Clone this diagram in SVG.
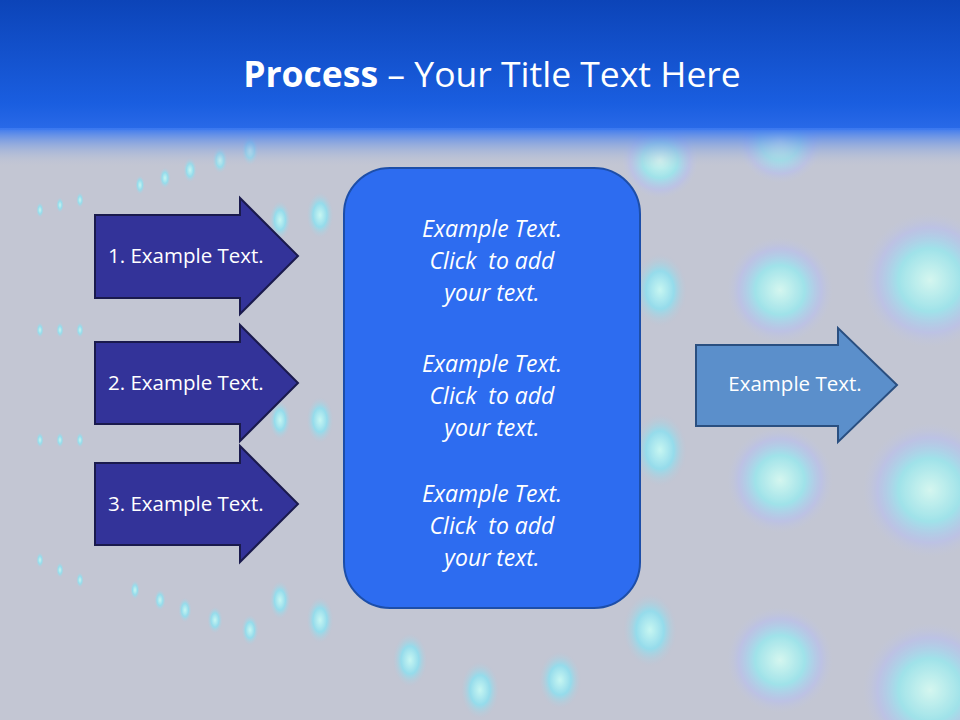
<svg xmlns="http://www.w3.org/2000/svg" width="960" height="720" viewBox="0 0 960 720">
<defs>
<linearGradient id="top" x1="0" y1="0" x2="0" y2="1">
<stop offset="0" stop-color="#0c44b8"/><stop offset="0.8" stop-color="#1a5ee0"/><stop offset="1" stop-color="#2a6ae8"/>
</linearGradient>
<linearGradient id="fade" x1="0" y1="0" x2="0" y2="1">
<stop offset="0" stop-color="#3a78f0"/><stop offset="1" stop-color="#c4c8d4" stop-opacity="0"/>
</linearGradient>
<radialGradient id="dot">
<stop offset="0" stop-color="#c8fff8"/><stop offset="0.5" stop-color="#8ee0f0"/><stop offset="1" stop-color="#c4c8d8" stop-opacity="0"/>
</radialGradient>
<radialGradient id="big">
<stop offset="0" stop-color="#d8fff4"/><stop offset="0.45" stop-color="#9ae8ee"/><stop offset="0.75" stop-color="#b8c0f0" stop-opacity="0.7"/><stop offset="1" stop-color="#c4c8d8" stop-opacity="0"/>
</radialGradient>
<style>
.ar{fill:#333399;stroke:#1a1a4d;stroke-width:2}
.t{font-family:"Open Sans","Liberation Sans",sans-serif;fill:#fff;font-size:20.5px}
.c{font-family:"Open Sans","Liberation Sans",sans-serif;fill:#fff;font-size:23px;font-style:italic;text-anchor:middle}
</style>
</defs>
<rect width="960" height="720" fill="#c3c6d3"/>
<g id="bg" opacity="0.85">
<g fill="url(#dot)">
<ellipse cx="320" cy="215" rx="14" ry="24"/><ellipse cx="320" cy="420" rx="14" ry="24"/><ellipse cx="320" cy="620" rx="14" ry="24"/>
<ellipse cx="280" cy="220" rx="11" ry="20"/><ellipse cx="280" cy="420" rx="11" ry="20"/><ellipse cx="280" cy="600" rx="11" ry="20"/>
<ellipse cx="250" cy="150" rx="9" ry="16"/><ellipse cx="220" cy="160" rx="8" ry="14"/><ellipse cx="190" cy="170" rx="7" ry="13"/><ellipse cx="165" cy="178" rx="6" ry="11"/><ellipse cx="140" cy="185" rx="5" ry="10"/>
<ellipse cx="250" cy="630" rx="9" ry="16"/><ellipse cx="215" cy="620" rx="8" ry="14"/><ellipse cx="185" cy="610" rx="7" ry="13"/><ellipse cx="160" cy="600" rx="6" ry="11"/><ellipse cx="135" cy="590" rx="5" ry="10"/>
<ellipse cx="410" cy="660" rx="18" ry="28"/><ellipse cx="480" cy="690" rx="20" ry="30"/><ellipse cx="560" cy="680" rx="22" ry="30"/>
<ellipse cx="660" cy="450" rx="28" ry="38"/><ellipse cx="660" cy="290" rx="28" ry="38"/><ellipse cx="650" cy="630" rx="28" ry="38"/>
</g>
<g fill="url(#big)">
<circle cx="780" cy="290" r="55"/><circle cx="780" cy="480" r="55"/><circle cx="780" cy="660" r="55"/>
<circle cx="930" cy="280" r="70"/><circle cx="930" cy="490" r="70"/><circle cx="930" cy="690" r="70"/>
<circle cx="660" cy="160" r="40"/><circle cx="780" cy="140" r="45"/>
</g>
<g fill="url(#dot)">
<ellipse cx="40" cy="330" rx="4" ry="8"/><ellipse cx="60" cy="330" rx="4" ry="8"/><ellipse cx="80" cy="330" rx="4" ry="8"/>
<ellipse cx="40" cy="440" rx="4" ry="8"/><ellipse cx="60" cy="440" rx="4" ry="8"/><ellipse cx="80" cy="440" rx="4" ry="8"/>
<ellipse cx="40" cy="560" rx="4" ry="8"/><ellipse cx="60" cy="570" rx="4" ry="8"/><ellipse cx="80" cy="580" rx="4" ry="8"/>
<ellipse cx="40" cy="210" rx="4" ry="8"/><ellipse cx="60" cy="205" rx="4" ry="8"/><ellipse cx="80" cy="200" rx="4" ry="8"/>
</g>
</g>
<rect width="960" height="130" fill="url(#top)"/>
<rect y="128" width="960" height="40" fill="url(#fade)"/>
<text x="492" y="87" text-anchor="middle" font-family="Open Sans,Liberation Sans,sans-serif" font-size="35.5" fill="#fff"><tspan font-weight="bold">Process</tspan> – Your Title Text Here</text>
<g id="step1"><path class="ar" d="M95,215H240V198L298,256L240,314V298H95Z"/><text class="t" x="108" y="263">1. Example Text.</text></g>
<g id="step2"><path class="ar" d="M95,342H240V325L298,383L240,441V424H95Z"/><text class="t" x="108" y="390">2. Example Text.</text></g>
<g id="step3"><path class="ar" d="M95,463H240V446L298,504L240,562V545H95Z"/><text class="t" x="108" y="511">3. Example Text.</text></g>
<g id="center">
<rect x="344" y="168" width="296" height="440" rx="46" fill="#2d6cf0" stroke="#1d4ea8" stroke-width="2"/>
<text class="c" x="492" y="237">Example Text.</text><text class="c" x="492" y="269">Click&#160; to add</text><text class="c" x="492" y="301">your text.</text>
<text class="c" x="492" y="372">Example Text.</text><text class="c" x="492" y="404">Click&#160; to add</text><text class="c" x="492" y="436">your text.</text>
<text class="c" x="492" y="502">Example Text.</text><text class="c" x="492" y="534">Click&#160; to add</text><text class="c" x="492" y="566">your text.</text>
</g>
<g id="result"><path d="M696,345H838V328L897,385L838,442V426H696Z" fill="#5b8fcb" stroke="#2a4f80" stroke-width="2"/><text class="t" x="795" y="391" text-anchor="middle">Example Text.</text></g>
<g id="connectors"/>
</svg>
